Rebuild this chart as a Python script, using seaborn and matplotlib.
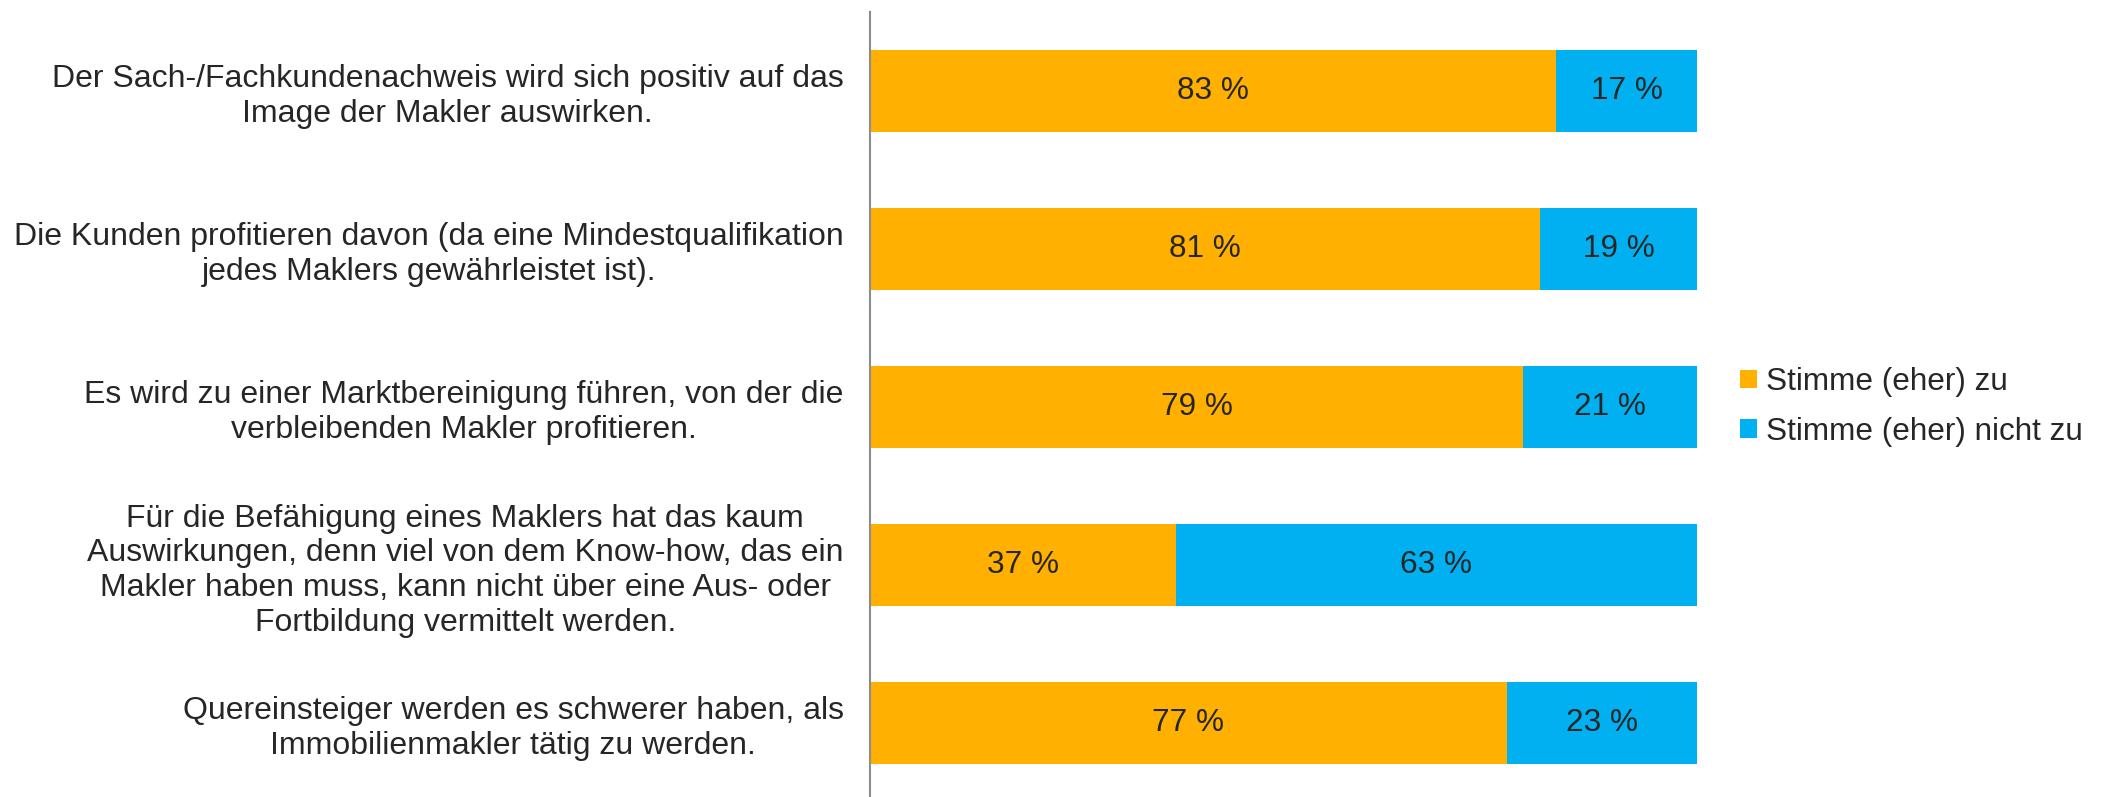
import pandas as pd
import matplotlib
matplotlib.use('Agg')
import matplotlib.pyplot as plt
from matplotlib.patches import Patch
import seaborn as sns

categories = [
    'Der Sach-/Fachkundenachweis wird sich positiv auf das\nImage der Makler auswirken.',
    'Die Kunden profitieren davon (da eine Mindestqualifikation\njedes Maklers gewährleistet ist).',
    'Es wird zu einer Marktbereinigung führen, von der die\nverbleibenden Makler profitieren.',
    'Für die Befähigung eines Maklers hat das kaum\nAuswirkungen, denn viel von dem Know-how, das ein\nMakler haben muss, kann nicht über eine Aus- oder\nFortbildung vermittelt werden.',
    'Quereinsteiger werden es schwerer haben, als\nImmobilienmakler tätig zu werden.',
]
stimme_zu = [83, 81, 79, 37, 77]
stimme_nicht_zu = [17, 19, 21, 63, 23]
series_names = ['Stimme (eher) zu', 'Stimme (eher) nicht zu']

col_zu = '#FFB000'
col_nicht = '#00B0F0'
text_col = '#262626'
axis_col = '#8C8C8C'
fs = 23

df = pd.DataFrame({'cat': categories, 'zu': stimme_zu, 'nicht': stimme_nicht_zu})
df['total'] = df['zu'] + df['nicht']

sns.set_style('white')
plt.rcParams['font.family'] = ['Liberation Sans', 'DejaVu Sans']
plt.rcParams['text.color'] = text_col

fig = plt.figure(figsize=(21.07, 7.97), dpi=100)
ax = fig.add_axes([870 / 2107, 1 - 802 / 797, (1697 - 870) / 2107, 790 / 797])

# stacked: full bar in blue first, orange on top
sns.barplot(data=df, y='cat', x='total', orient='h', color=col_nicht, width=0.525,
            saturation=1, ax=ax, linewidth=0)
sns.barplot(data=df, y='cat', x='zu', orient='h', color=col_zu, width=0.525,
            saturation=1, ax=ax, linewidth=0)

for i, (z, n) in enumerate(zip(stimme_zu, stimme_nicht_zu)):
    ax.text(z / 2, i, f'{z} %', ha='center', va='center', fontsize=22.7, color=text_col)
    ax.text(z + n / 2, i, f'{n} %', ha='center', va='center', fontsize=22.7, color=text_col)

ax.set_xlim(0, 100)
ax.set_ylim(len(categories) - 0.5, -0.5)
ax.set_xlabel('')
ax.set_ylabel('')
ax.set_xticks([])

for s in ['top', 'right', 'bottom']:
    ax.spines[s].set_visible(False)
ax.spines['left'].set_color(axis_col)
ax.spines['left'].set_linewidth(1.5)

ax.set_yticks(range(len(categories)))
ax.set_yticklabels(categories, fontsize=fs, color=text_col, multialignment='center',
                   linespacing=1.2)
ax.tick_params(axis='y', which='major', length=0, pad=19)
ax.set_yticks([i - 0.5 for i in range(len(categories) + 1)], minor=True)
ax.tick_params(axis='y', which='minor', length=8, width=1.5, color=axis_col, direction='out')

handles = [Patch(facecolor=col_zu, edgecolor='none'), Patch(facecolor=col_nicht, edgecolor='none')]
fig.legend(handles, series_names, loc='center left', bbox_to_anchor=(1740 / 2107, 1 - 407 / 797),
           frameon=False, fontsize=22.7, handlelength=0.54, handleheight=0.54, handletextpad=0.28,
           labelspacing=0.62, borderpad=0, borderaxespad=0)

fig.savefig('out.png', dpi=100)
